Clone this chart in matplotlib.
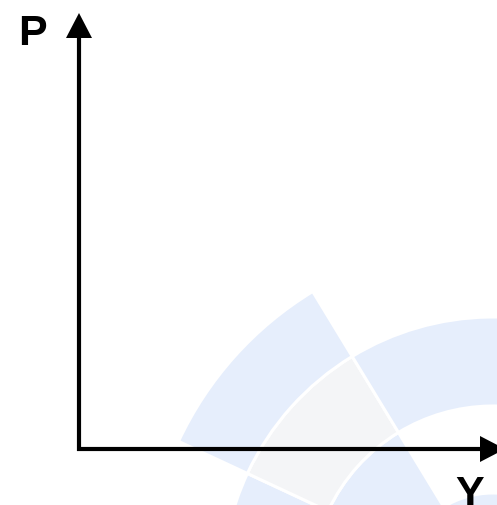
import matplotlib
matplotlib.use("Agg")
import matplotlib.pyplot as plt
from matplotlib.patches import Wedge, Polygon

# --- content ---
axis_labels = ["Y", "P"]          # horizontal, vertical
# watermark rings (radius ranges, px) and sectors (angles, deg, y-down coords)
ring_edges = [0, 95, 182, 271, 347]
sector_edges = [180, 205, 238.7, 360]
# colour per (ring, sector): None = white
cell_colors = [
    ["#E6EEFC", "#E6EEFC", "#E6EEFC"],   # ring 0
    [None, "#E6EEFC", None],             # ring 1
    ["#E6EEFC", "#F4F5F7", "#E6EEFC"],   # ring 2
    [None, "#E6EEFC", None],             # ring 3
]

W, H = 497, 505
fig = plt.figure(figsize=(W / 100, H / 100), dpi=100)
ax = fig.add_axes([0, 0, 1, 1])
ax.set_xlim(0, W)
ax.set_ylim(H, 0)
ax.axis("off")

center = (493, 588)
for i in range(len(ring_edges) - 1):
    for j in range(len(sector_edges) - 1):
        c = cell_colors[i][j]
        if c is None:
            continue
        r_out = ring_edges[i + 1]
        ax.add_patch(Wedge(center, r_out, sector_edges[j], sector_edges[j + 1],
                           width=r_out - ring_edges[i], facecolor=c,
                           edgecolor="white", linewidth=2.2, zorder=1))

# axes with arrows
ox, oy = 79, 449
ax.plot([ox, ox], [oy + 2, 36], color="black", lw=3.0, solid_capstyle="butt", zorder=3)
ax.plot([ox - 2, 482], [oy, oy], color="black", lw=3.0, solid_capstyle="butt", zorder=3)
ax.add_patch(Polygon([[ox - 13, 38], [ox + 13, 38], [ox, 13]], closed=True,
                     facecolor="black", edgecolor="none", zorder=4))
ax.add_patch(Polygon([[480, oy - 13], [480, oy + 13], [505, oy]], closed=True,
                     facecolor="black", edgecolor="none", zorder=4))

ax.text(32.5, 45, axis_labels[1], ha="center", va="baseline", fontsize=31,
        fontweight="bold", family="Liberation Sans", zorder=5)
ax.text(470, 506, axis_labels[0], ha="center", va="baseline", fontsize=31,
        fontweight="bold", family="Liberation Sans", zorder=5)

fig.savefig("out.png", dpi=100)
